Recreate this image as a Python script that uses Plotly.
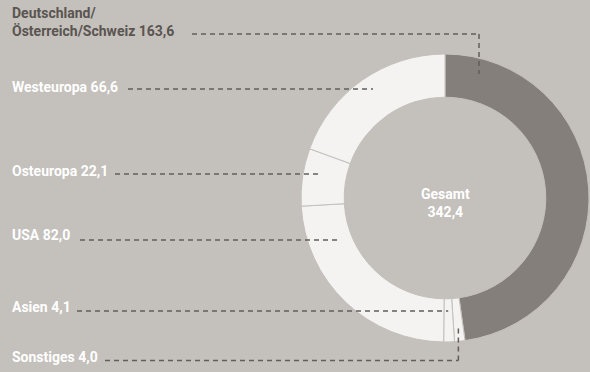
import math
import plotly.graph_objects as go

# Umsatz nach Regionen (Mio.), clockwise from 12 o'clock
regions = ["Deutschland/Österreich/Schweiz", "Sonstiges", "Asien", "USA", "Osteuropa", "Westeuropa"]
values = [163.6, 4.0, 4.1, 82.0, 22.1, 66.6]
value_labels = ["163,6", "4,0", "4,1", "82,0", "22,1", "66,6"]
total_label = "342,4"

W, H = 590, 372
BG = "#c4c0bc"
DARK = "#847f7b"
LIGHT = "#f4f3f1"
LINE = "#625d59"
FONT = "Roboto"
FSIZE = 14

# ring geometry in pixels
CX, CY, R_OUT = 445, 198, 144
HOLE = 0.70
R_IN = R_OUT * HOLE

slice_colors = [DARK] + [LIGHT] * (len(values) - 1)

fig = go.Figure()
fig.add_trace(go.Pie(
    values=values,
    labels=regions,
    sort=False,
    direction="clockwise",
    rotation=0,
    hole=HOLE,
    textinfo="none",
    hoverinfo="skip",
    showlegend=False,
    marker=dict(colors=slice_colors, line=dict(color=BG, width=1)),
    domain=dict(x=[(CX - R_OUT) / W, (CX + R_OUT) / W],
                y=[(H - CY - R_OUT) / H, (H - CY + R_OUT) / H]),
))

# pixel-space overlay axes for labels and leader lines
fig.add_trace(go.Scatter(x=[0, W], y=[0, H], mode="markers",
                         marker=dict(opacity=0), hoverinfo="skip", showlegend=False))

# slice angles (degrees clockwise from top)
total = sum(values)
starts, cum = [], 0.0
for v in values:
    starts.append(cum / total * 360)
    cum += v
mids = [s + v / total * 180 for s, v in zip(starts, values)]


def ring_point(angle_deg, r):
    a = math.radians(angle_deg)
    return CX + r * math.sin(a), CY - r * math.cos(a)


def ray_x_at_y(angle_deg, y):
    a = math.radians(angle_deg)
    t = (CY - y) / math.cos(a)
    return CX + t * math.sin(a)


shapes = []
annotations = []
dash = "5px,4px"


def seg(x0, y0, x1, y1):
    shapes.append(dict(type="line", xref="x", yref="y", x0=x0, y0=y0, x1=x1, y1=y1,
                       line=dict(color=LINE, width=1.5, dash=dash)))


def label(text, y, color="white"):
    annotations.append(dict(x=11, y=y, xref="x", yref="y", text=text, showarrow=False,
                            xanchor="left", yanchor="middle", borderpad=0,
                            font=dict(family=FONT, size=FSIZE, color=color, weight=700)))


# Deutschland/Österreich/Schweiz: elbow leader into the dark slice
label("Deutschland/", 13, "#5a5550")
label("Österreich/Schweiz " + value_labels[0], 31, "#5a5550")
seg(192, 34, 479, 34)
seg(479, 34, 479, 74)

# Westeuropa
label("Westeuropa " + value_labels[5], 87)
seg(128, 89, 373, 89)

# Osteuropa
label("Osteuropa " + value_labels[4], 170.5)
seg(115, 174, 322, 174)

# USA
label("USA " + value_labels[3], 235)
seg(80, 240, 337, 240)

# Asien: horizontal leader ending on the slice's mid-angle ray
label("Asien " + value_labels[2], 307)
seg(77, 311, ray_x_at_y(mids[2], 311), 311)

# Sonstiges: horizontal then up into the slice
label("Sonstiges " + value_labels[1], 357)
sx, sy = ring_point(mids[1], (R_IN + R_OUT) / 2 + 8)
seg(105, 360.5, sx, 360.5)
seg(sx, 360.5, sx, sy)

# centre total
annotations.append(dict(x=CX, y=203, xref="x", yref="y",
                        text="Gesamt<br>" + total_label, showarrow=False,
                        xanchor="center", yanchor="middle",
                        font=dict(family=FONT, size=FSIZE, color="white", weight=700)))

fig.update_layout(
    width=W, height=H,
    margin=dict(l=0, r=0, t=0, b=0),
    paper_bgcolor=BG, plot_bgcolor="rgba(0,0,0,0)",
    xaxis=dict(range=[0, W], visible=False, fixedrange=True, domain=[0, 1]),
    yaxis=dict(range=[H, 0], visible=False, fixedrange=True, domain=[0, 1]),
    shapes=shapes,
    annotations=annotations,
    hovermode=False,
)

fig.write_html("out.html", config={"displayModeBar": False})
